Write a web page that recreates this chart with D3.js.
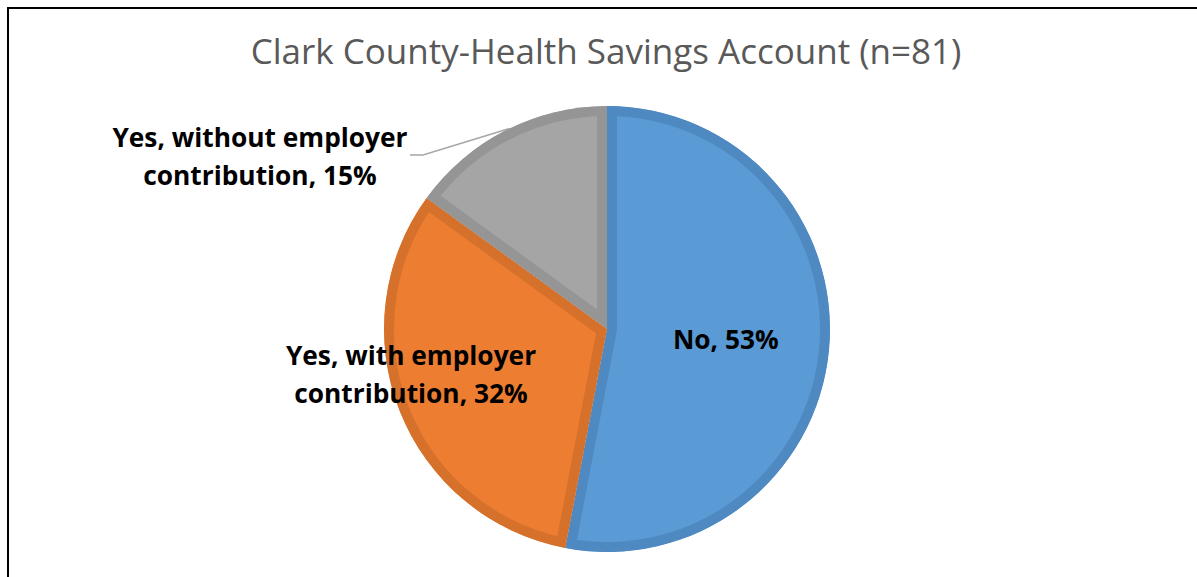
<!DOCTYPE html>
<html>
<head>
<meta charset="utf-8">
<script src="https://cdn.jsdelivr.net/npm/d3@7"></script>
<style>
  html, body { margin: 0; padding: 0; background: #fff; }
  svg { display: block; }
</style>
</head>
<body>
<svg id="chart" width="1197" height="577"></svg>
<script>
// Survey responses: does the employer offer a Health Savings Account?
const categories = ["No", "Yes, with employer contribution", "Yes, without employer contribution"];
const shares = [53, 32, 15];
const labelLines = [
  ["No, 53%"],
  ["Yes, with employer", "contribution, 32%"],
  ["Yes, without employer", "contribution, 15%"]
];
const fills = ["#5B9BD5", "#ED7D31", "#A5A5A5"];
const edges = ["#4F89C2", "#D6712C", "#959595"];
const title = "Clark County-Health Savings Account (n=81)";

const svg = d3.select("#chart");
const W = 1197, H = 577;

// chart frame
svg.append("rect")
  .attr("x", 8).attr("y", 8)
  .attr("width", W + 20).attr("height", H + 20)
  .attr("fill", "none").attr("stroke", "#000").attr("stroke-width", 2);

svg.append("text")
  .attr("x", 606).attr("y", 64)
  .attr("text-anchor", "middle")
  .attr("font-family", "'Open Sans', sans-serif")
  .attr("font-size", 35)
  .attr("fill", "#595959")
  .text(title);

const cx = 607, cy = 329, R = 223;
const data = categories.map((c, i) => ({ name: c, value: shares[i], i }));
const pie = d3.pie().sort(null).value(d => d.value);
const arcs = pie(data);
const arc = d3.arc().innerRadius(0).outerRadius(R);

const g = svg.append("g").attr("transform", `translate(${cx},${cy})`);
const defs = svg.append("defs");

arcs.forEach((a, k) => {
  defs.append("clipPath").attr("id", "clip" + k)
    .append("path").attr("d", arc(a));
});

// each slice carries a darker inner rim
g.selectAll("path.slice").data(arcs).enter().append("path")
  .attr("class", "slice")
  .attr("d", arc)
  .attr("fill", d => fills[d.data.i])
  .attr("stroke", d => edges[d.data.i])
  .attr("stroke-width", 20)
  .attr("stroke-linejoin", "miter")
  .attr("clip-path", (d, k) => `url(#clip${k})`);

// label anchors (centre of the text block)
const anchors = [
  arc.centroid(arcs[0]).map((v) => v * 1.07),
  [-196, 46],
  [-347, -172]
];

const lineH = 38;
const labels = svg.append("g")
  .attr("font-family", "'Open Sans', sans-serif")
  .attr("font-weight", "bold")
  .attr("font-size", 26.3)
  .attr("fill", "#000")
  .attr("text-anchor", "middle");

arcs.forEach((a, k) => {
  const [ax, ay] = anchors[k];
  const lines = labelLines[k];
  const t = labels.append("text")
    .attr("x", cx + ax)
    .attr("y", cy + ay - (lines.length - 1) * lineH / 2);
  lines.forEach((ln, j) => {
    t.append("tspan").attr("x", cx + ax).attr("dy", j === 0 ? "0.35em" : lineH).text(ln);
  });
});

// leader line for the small slice
const gray = arcs[2];
const hit = gray.startAngle + (gray.endAngle - gray.startAngle) * 0.52;
const edgePt = [cx + R * Math.sin(hit), cy - R * Math.cos(hit)];
svg.append("polyline")
  .attr("points", [[410, 155], [423, 155], edgePt].map(p => p.join(",")).join(" "))
  .attr("fill", "none")
  .attr("stroke", "#A6A6A6")
  .attr("stroke-width", 1.5);
</script>
</body>
</html>
